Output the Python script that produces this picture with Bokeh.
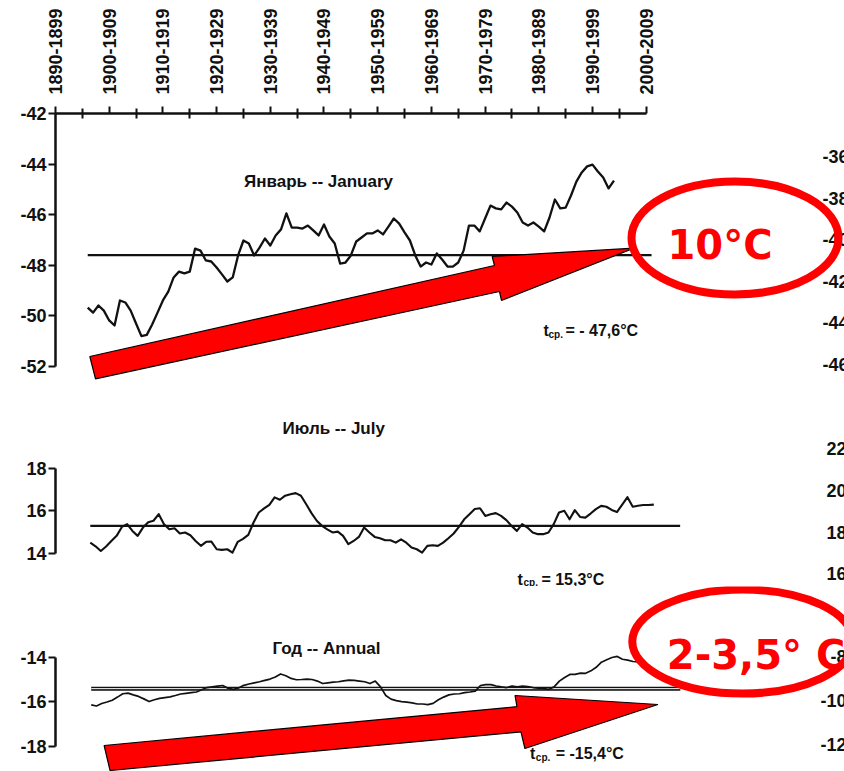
import math
from bokeh.plotting import figure
from bokeh.models import LinearAxis, FixedTicker, Range1d, Label
from bokeh.layouts import column
from bokeh.embed import file_html
from bokeh.resources import INLINE

FONT = "Liberation Sans"
BIG_FONT = "DejaVu Sans"
INK = "#111111"
RED = "#ff0000"

# ---------------- data ----------------
DECADE_TICKS = [1890, 1900, 1910, 1920, 1930, 1940, 1950, 1960, 1970, 1980, 1990, 2000]
HALF_TICKS = [1895, 1905, 1915, 1925, 1935, 1945, 1955, 1965, 1975, 1985, 1995]
DECADE_LABELS = ["1890-1899", "1900-1909", "1910-1919", "1920-1929", "1930-1939", "1940-1949",
                 "1950-1959", "1960-1969", "1970-1979", "1980-1989", "1990-1999", "2000-2009"]

JAN_YEARS = list(range(1896, 1995))
JAN_T = [-49.67, -49.87, -49.59, -49.79, -50.18, -50.38, -49.39, -49.47, -49.79, -50.30,
         -50.80, -50.75, -50.34, -49.87, -49.39, -49.04, -48.48, -48.25, -48.32, -48.25,
         -47.34, -47.42, -47.81, -47.85, -48.09, -48.36, -48.64, -48.48, -47.61, -47.02,
         -47.14, -47.61, -47.30, -46.94, -47.22, -46.82, -46.58, -45.95, -46.51, -46.51,
         -46.55, -46.43, -46.62, -46.82, -46.39, -46.86, -47.14, -47.93, -47.89, -47.61,
         -47.06, -46.90, -46.74, -46.74, -46.62, -46.78, -46.47, -46.15, -46.35, -46.70,
         -47.02, -47.61, -48.05, -47.89, -47.97, -47.53, -47.77, -48.05, -48.05, -47.89,
         -47.42, -46.43, -46.43, -46.66, -46.15, -45.64, -45.75, -45.79, -45.52, -45.68,
         -45.91, -46.31, -46.43, -46.31, -46.47, -46.66, -46.11, -45.40, -45.75, -45.72,
         -45.24, -44.69, -44.33, -44.09, -44.02, -44.29, -44.53, -44.96, -44.65]
JAN_MEAN = -47.6
JAN_MEAN_YEARS = [1896, 2001]
JAN_TICKS = [-52, -50, -48, -46, -44, -42]
JAN_RIGHT_TICKS = [-36, -38, -40, -42, -44, -46]

JUL_YEARS = list(range(1896, 2004))
JUL_T = [14.51, 14.34, 14.12, 14.33, 14.59, 14.83, 15.25, 15.38, 15.06, 14.83,
         15.22, 15.47, 15.54, 15.85, 15.38, 15.14, 15.19, 14.94, 14.99, 14.86,
         14.59, 14.36, 14.55, 14.56, 14.20, 14.17, 14.20, 14.04, 14.55, 14.69,
         14.88, 15.46, 15.93, 16.12, 16.29, 16.64, 16.53, 16.72, 16.79, 16.84,
         16.72, 16.32, 15.90, 15.54, 15.30, 15.14, 14.99, 15.03, 14.83, 14.44,
         14.59, 14.78, 15.22, 14.99, 14.78, 14.72, 14.62, 14.62, 14.51, 14.67,
         14.51, 14.28, 14.20, 14.04, 14.36, 14.39, 14.36, 14.51, 14.72, 14.94,
         15.25, 15.61, 15.85, 16.09, 16.13, 15.77, 15.85, 15.90, 15.77, 15.57,
         15.30, 15.06, 15.38, 15.22, 14.99, 14.91, 14.91, 14.99, 15.38, 15.93,
         16.01, 15.61, 16.04, 15.72, 15.69, 15.88, 16.09, 16.24, 16.20, 16.05,
         15.95, 16.30, 16.65, 16.20, 16.25, 16.28, 16.28, 16.30]
JUL_MEAN = 15.3
JUL_MEAN_YEARS = [1896, 2008]
JUL_TICKS = [14, 16, 18]
JUL_RIGHT_TICKS = [22, 20, 18, 16]

ANN_YEARS = list(range(1896, 2001))
ANN_T = [-16.13, -16.18, -16.07, -16.00, -15.92, -15.78, -15.63, -15.60, -15.68, -15.75,
         -15.86, -15.98, -15.90, -15.84, -15.80, -15.77, -15.71, -15.64, -15.61, -15.58,
         -15.55, -15.45, -15.35, -15.32, -15.29, -15.26, -15.38, -15.43, -15.37, -15.25,
         -15.19, -15.14, -15.09, -15.03, -14.97, -14.88, -14.74, -14.82, -14.94, -15.00,
         -14.99, -14.97, -14.99, -15.06, -15.17, -15.14, -15.11, -15.09, -15.05, -15.02,
         -15.03, -15.06, -15.09, -15.17, -15.06, -15.32, -15.71, -15.87, -15.94, -15.98,
         -16.01, -16.04, -16.09, -16.09, -16.12, -16.06, -15.90, -15.78, -15.68, -15.64,
         -15.63, -15.58, -15.55, -15.51, -15.26, -15.22, -15.22, -15.28, -15.32, -15.35,
         -15.28, -15.32, -15.29, -15.31, -15.35, -15.38, -15.40, -15.43, -15.32, -15.06,
         -14.90, -14.76, -14.76, -14.70, -14.71, -14.60, -14.44, -14.21, -14.10, -14.00,
         -13.95, -14.08, -14.12, -14.18, -14.20]
ANN_MEAN = -15.4
ANN_MEAN_YEARS = [1896, 2008]
ANN_TICKS = [-18, -16, -14]
ANN_RIGHT_TICKS = [-8, -10, -12]

# annotation geometry (data units of each panel)
JAN_ARROW_X = [1896.39, 1897.45, 1972.68, 1973.05, 1997.69, 1971.32, 1971.75]
JAN_ARROW_Y = [-51.605, -52.486, -49.036, -49.391, -47.324, -47.652, -48.008]
ANN_ARROW_X = [1898.45, 1899.58, 1977.70, 1978.45, 2003.74, 1976.57, 1976.94]
ANN_ARROW_Y = [-17.955, -19.079, -17.344, -18.090, -16.112, -15.708, -16.211]

W = 844


def make_fig(h, xr, yr, left, top=0):
    p = figure(width=W, height=h, x_range=Range1d(*xr), y_range=Range1d(*yr),
               x_axis_location=None, y_axis_location=None, toolbar_location=None,
               output_backend="svg", min_border_left=left, min_border_right=0,
               min_border_top=top, min_border_bottom=0)
    p.outline_line_color = None
    p.background_fill_color = "white"
    p.border_fill_color = "white"
    p.xgrid.visible = False
    p.ygrid.visible = False
    return p


def left_axis(p, ticks, bounds):
    ax = LinearAxis(ticker=FixedTicker(ticks=ticks), bounds=bounds)
    ax.axis_line_width = 2.5
    ax.axis_line_color = INK
    ax.major_tick_line_width = 2
    ax.major_tick_line_color = INK
    ax.major_tick_out = 7
    ax.major_tick_in = 0
    ax.minor_tick_line_color = None
    ax.major_label_text_font = FONT
    ax.major_label_text_font_style = "bold"
    ax.major_label_text_font_size = "18px"
    ax.major_label_text_color = INK
    ax.major_label_standoff = 2
    ax.major_label_overrides = {t: str(t) for t in ticks}
    p.add_layout(ax, "left")


def lab(p, x, y, text, size, align="left", font=FONT, color=INK, level=None, yname=None,
        baseline="alphabetic"):
    kw = {}
    if level:
        kw["level"] = level
    if yname:
        kw["y_range_name"] = yname
    p.add_layout(Label(x=x, y=y, text=text, text_font=font, text_font_size=size,
                       text_font_style="bold", text_color=color, text_align=align,
                       text_baseline=baseline, **kw))


# ---------------- January ----------------
p1 = make_fig(398, (1890, 2036.93), (-53.265, -42), left=55, top=113)
p1.extra_y_ranges = {"r": Range1d(-47.635, -33.933)}
top = LinearAxis(ticker=FixedTicker(ticks=DECADE_TICKS, minor_ticks=HALF_TICKS), bounds=(1890, 2000))
top.major_label_overrides = dict(zip(DECADE_TICKS, DECADE_LABELS))
top.major_label_orientation = math.pi / 2
top.axis_line_width = 2.5
top.axis_line_color = INK
top.major_tick_line_width = 2
top.major_tick_line_color = INK
top.major_tick_out = 7
top.major_tick_in = 0
top.minor_tick_line_width = 2
top.minor_tick_line_color = INK
top.minor_tick_out = 5
top.minor_tick_in = 5
top.major_label_text_font = FONT
top.major_label_text_font_style = "bold"
top.major_label_text_font_size = "18px"
top.major_label_text_color = INK
top.major_label_standoff = 12
p1.add_layout(top, "above")
left_axis(p1, JAN_TICKS, (-52, -42))

for t in JAN_RIGHT_TICKS:
    lab(p1, 2037.67, t, str(t), "18px", align="right", level="underlay", yname="r", baseline="middle")

p1.line(JAN_MEAN_YEARS, [JAN_MEAN, JAN_MEAN], line_color=INK, line_width=2.2)
p1.line(JAN_YEARS, JAN_T, line_color=INK, line_width=2.3, line_join="round")
p1.patch(JAN_ARROW_X, JAN_ARROW_Y, fill_color=RED, line_color="black", line_width=1.2)
p1.ellipse(x=[2016.54], y=[-46.921], width=207, height=113, width_units="screen",
           height_units="screen", fill_color=None, line_color=RED, line_width=8)
lab(p1, 1938.98, -44.688, "Январь -- January", "17px", align="center")
lab(p1, 1980.875, -50.577, "t", "16px")
lab(p1, 1981.806, -50.735, "ср.", "10px")
lab(p1, 1984.972, -50.577, "= - 47,6°C", "16px")
lab(p1, 2003.966, -47.217, "10°C", "40px", font=BIG_FONT, color=RED)

# ---------------- July ----------------
p2 = make_fig(188, (1889.396, 2039.207), (12.447, 21.294), left=50)
p2.extra_y_ranges = {"r": Range1d(15.397, 24.392)}
left_axis(p2, JUL_TICKS, (14, 18))
for t in JUL_RIGHT_TICKS:
    lab(p2, 2039.58, t, str(t), "18px", align="right", level="underlay", yname="r", baseline="middle")
p2.line(JUL_MEAN_YEARS, [JUL_MEAN, JUL_MEAN], line_color=INK, line_width=2.4)
p2.line(JUL_YEARS, JUL_T, line_color=INK, line_width=2.1, line_join="round")
lab(p2, 1942.23, 19.882, "Июль -- July", "17px", align="center")
lab(p2, 1977.13, 12.776, "t", "16px")
lab(p2, 1978.26, 12.635, "ср.", "10px")
lab(p2, 1981.66, 12.776, "= 15,3°C", "16px")

# ---------------- Annual ----------------
p3 = make_fig(185, (1889.208, 2039.208), (-19.124, -10.809), left=49)
p3.extra_y_ranges = {"r": Range1d(-13.227, -4.818)}
left_axis(p3, ANN_TICKS, (-18, -14))
for t in ANN_RIGHT_TICKS:
    lab(p3, 2039.58, t, str(t), "18px", align="right", level="underlay", yname="r", baseline="middle")
p3.line(ANN_MEAN_YEARS, [ANN_MEAN, ANN_MEAN], line_color=INK, line_width=4)
p3.line(ANN_MEAN_YEARS, [ANN_MEAN, ANN_MEAN], line_color="white", line_width=1)
p3.line(ANN_YEARS, ANN_T, line_color=INK, line_width=1.7, line_join="round")
p3.patch(ANN_ARROW_X, ANN_ARROW_Y, fill_color=RED, line_color="black", line_width=1.2)
p3.ellipse(x=[2019.87], y=[-13.281], width=221, height=104, width_units="screen",
           height_units="screen", fill_color=None, line_color=RED, line_width=8)
lab(p3, 1940.72, -13.596, "Год -- Annual", "17px", align="center")
lab(p3, 1979.40, -18.315, "t", "16px")
lab(p3, 1980.53, -18.494, "ср.", "10px")
lab(p3, 1984.30, -18.315, "= -15,4°C", "16px")
lab(p3, 2005.43, -13.910, "2-3,5° C", "40px", font=BIG_FONT, color=RED)

layout = column(p1, p2, p3)
open("out.html", "w").write(file_html(layout, INLINE))
